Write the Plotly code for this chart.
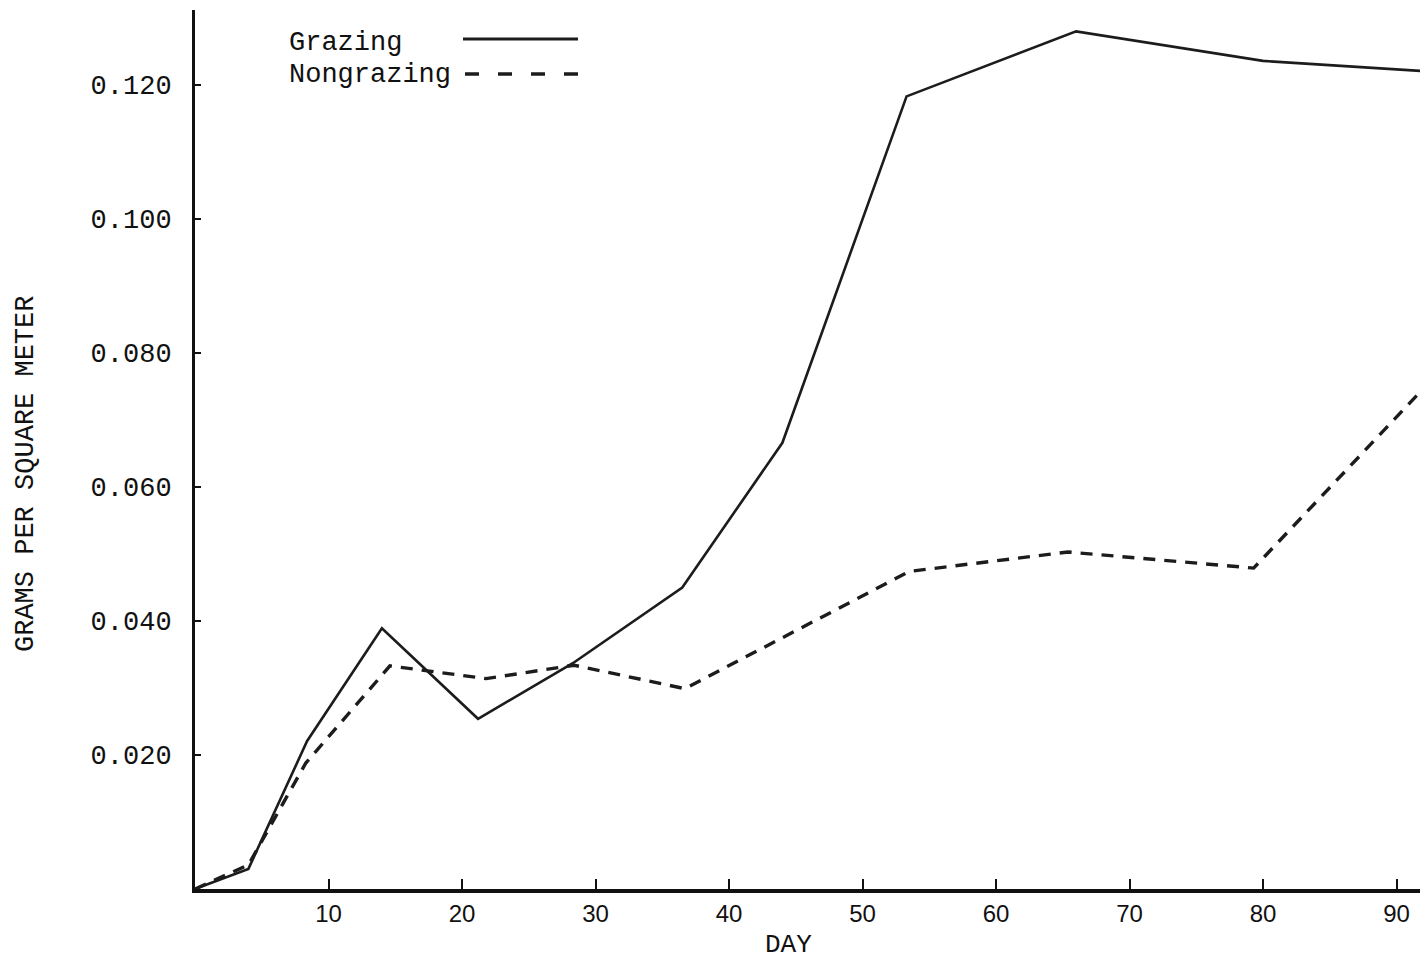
import plotly.graph_objects as go

# ---- data ----
grazing_day = [0, 4, 8.4, 14, 21.2, 28.3, 36.5, 44, 53.3, 66, 80, 91.8]
grazing_val = [0, 0.0030, 0.0221, 0.0389, 0.0254, 0.0337, 0.0450, 0.0666, 0.1183, 0.1280, 0.1236, 0.1221]

nongrazing_day = [0, 4, 8.3, 14.6, 21.8, 28.4, 36.7, 53.5, 65.4, 79.3, 92.4]
nongrazing_val = [0, 0.0036, 0.0188, 0.0333, 0.0314, 0.0334, 0.0299, 0.0474, 0.0503, 0.0479, 0.0755]

x_ticks = [10, 20, 30, 40, 50, 60, 70, 80, 90]
y_ticks = [0.020, 0.040, 0.060, 0.080, 0.100, 0.120]
y_tick_labels = ["0.020", "0.040", "0.060", "0.080", "0.100", "0.120"]

series_names = ["Grazing", "Nongrazing"]
x_title = "DAY"
y_title = "GRAMS PER SQUARE METER"

# ---- layout constants (screen pixels; page body adds an 8px offset) ----
OFF = 8
SCREEN_W, SCREEN_H = 1428, 962
W, H = SCREEN_W - OFF, SCREEN_H - OFF
PLOT_LEFT, PLOT_TOP, PLOT_BOTTOM = 195, 10, 889       # screen pixels
ML = PLOT_LEFT - OFF
MT = PLOT_TOP - OFF
MB = SCREEN_H - PLOT_BOTTOM
MR = 0
PW = W - ML - MR
PH = H - MT - MB
X_MAX = PW / 13.35
Y_MAX = PH / 6700.0

TYPE = "Liberation Mono"
INK = "#111111"


def px_x(px):
    return (px - PLOT_LEFT) / PW


def px_y(py):
    return (PLOT_BOTTOM - py) / PH


fig = go.Figure()
fig.add_trace(go.Scatter(
    x=grazing_day, y=grazing_val, mode="lines", name=series_names[0],
    line=dict(color="#1c1c1c", width=2.6), showlegend=False,
))
fig.add_trace(go.Scatter(
    x=nongrazing_day, y=nongrazing_val, mode="lines", name=series_names[1],
    line=dict(color="#1c1c1c", width=3.4, dash="12px,9px"), showlegend=False,
))

# legend drawn typewriter-style: text on the left, line sample on the right
fig.add_annotation(text=series_names[0], xref="paper", yref="paper",
                   x=px_x(287), y=px_y(43), xanchor="left", yanchor="middle",
                   showarrow=False, font=dict(family=TYPE, size=27, color=INK))
fig.add_annotation(text=series_names[1], xref="paper", yref="paper",
                   x=px_x(287), y=px_y(75), xanchor="left", yanchor="middle",
                   showarrow=False, font=dict(family=TYPE, size=27, color=INK))
fig.add_shape(type="line", xref="paper", yref="paper",
              x0=px_x(463), x1=px_x(578), y0=px_y(39), y1=px_y(39),
              line=dict(color="#1c1c1c", width=3))
fig.add_shape(type="line", xref="paper", yref="paper",
              x0=px_x(465), x1=px_x(578), y0=px_y(74), y1=px_y(74),
              line=dict(color="#1c1c1c", width=3.4, dash="14px,19px"))

# axis titles
fig.add_annotation(text=y_title, xref="paper", yref="paper",
                   x=px_x(26), y=px_y(474), textangle=-90,
                   xanchor="center", yanchor="middle", showarrow=False,
                   font=dict(family=TYPE, size=27, color=INK))
fig.add_annotation(text=x_title, xref="paper", yref="paper",
                   x=px_x(788), y=px_y(945), xanchor="center", yanchor="middle",
                   showarrow=False, font=dict(family=TYPE, size=26, color=INK))

fig.update_layout(
    width=W, height=H,
    margin=dict(l=ML, r=MR, t=MT, b=MB, pad=0),
    paper_bgcolor="white", plot_bgcolor="white",
    showlegend=False,
)
fig.update_xaxes(
    range=[0, X_MAX], tickvals=x_ticks, ticktext=[str(v) for v in x_ticks],
    showgrid=False, zeroline=False,
    showline=True, linecolor=INK, linewidth=4,
    ticks="inside", ticklen=10, tickwidth=2, tickcolor=INK,
    tickfont=dict(family="Liberation Sans", size=24, color=INK),
    ticklabelstandoff=0,
)
fig.update_yaxes(
    range=[0, Y_MAX], tickvals=y_ticks, ticktext=y_tick_labels,
    showgrid=False, zeroline=False,
    showline=True, linecolor=INK, linewidth=3,
    ticks="inside", ticklen=6, tickwidth=2, tickcolor=INK,
    tickfont=dict(family=TYPE, size=27, color=INK),
    ticklabelstandoff=15,
)

fig.write_html("out.html")
